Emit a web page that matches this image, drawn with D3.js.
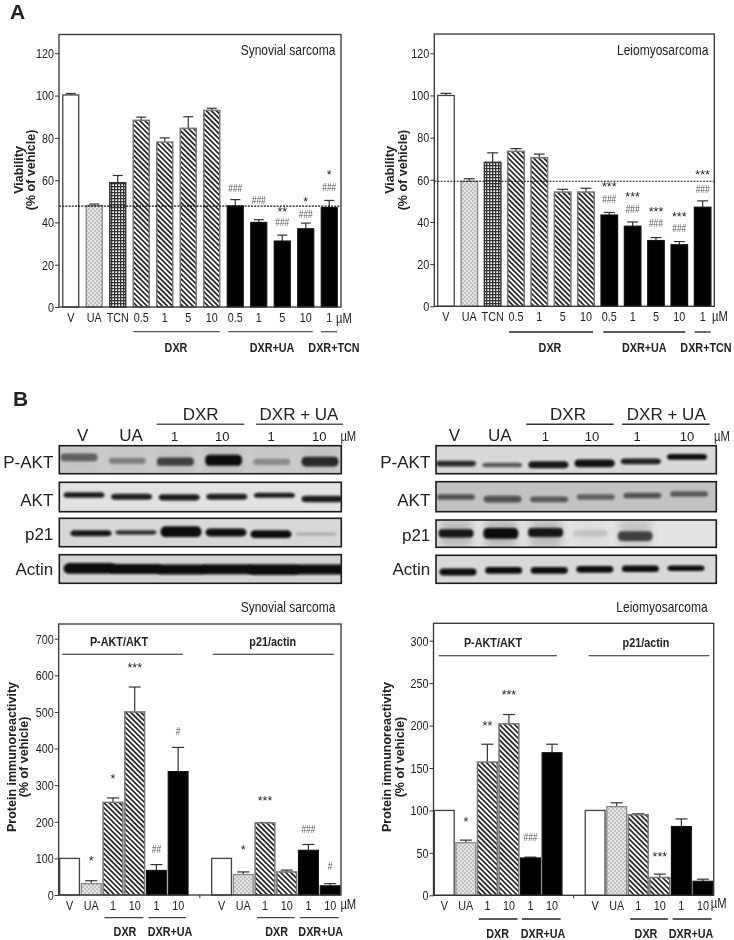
<!DOCTYPE html>
<html><head><meta charset="utf-8">
<script src="https://cdn.jsdelivr.net/npm/d3@7/dist/d3.min.js"></script>
<style>
html,body{margin:0;padding:0;background:#fff}
svg{display:block;filter:blur(0.35px)}
text{font-family:"Liberation Sans",Arial,sans-serif;fill:#222}
.tick line,.domain{stroke:#333}
</style></head><body>
<svg id="c" width="734" height="940" viewBox="0 0 734 940"></svg>
<script>
// ---------- DATA ----------
const viabilityLabels = ['V','UA','TCN','0.5','1','5','10','0.5','1','5','10','1'];
const viabilityKinds  = ['white','dots','grid','stripe','stripe','stripe','stripe','black','black','black','black','black'];
const synViability    = [100.3,48,58.8,88.3,78,84.5,93,47.8,40,31.2,37,47];
const synViabilityTop = [101,48.7,62.2,89.8,80,90,94,50.8,41.3,34,39.7,50.4];
const synViabilityRef = 47.7;
const synViabilityStars = [null,null,null,null,null,null,null,null,null,['**',45.6],['*',50.6],['*',63.2]];
const synViabilityHash  = [null,null,null,null,null,null,null,56.4,50.8,40.4,44,56.6];
const leiViability    = [100,59.3,68.3,73.5,70.5,54.2,54.2,43.3,38,31.2,29.2,47];
const leiViabilityTop = [101,60.5,72.8,74.8,72.2,55.5,56,44.5,40,32.6,30.7,50];
const leiViabilityRef = 59.3;
const leiViabilityStars = [null,null,null,null,null,null,null,['***',57.5],['***',52.8],['***',45.7],['***',43.3],['***',63.2]];
const leiViabilityHash  = [null,null,null,null,null,null,null,50.9,46.3,39.4,37,55.8];

const proteinLabels = ['V','UA','1','10','1','10','','V','UA','1','10','1','10'];
const proteinKinds  = ['white','dots','stripe','stripe','black','black',null,'white','dots','stripe','stripe','black','black'];
const synProtein    = [100,31,253,500,67,337,null,100,56,197,63,122,25];
const synProteinTop = [100,39,265,568,83,403,null,100,63,198,68,138,31];
const synProteinStars = [null,['*',96],['*',322],['***',623],null,null,null,null,['*',126],['***',262],null,null,null];
const synProteinHash  = [null,null,null,null,['##',126],['#',449],null,null,null,null,null,['###',179],['#',80]];
const leiProtein    = [100,62,157,202,44,168,null,100,104.5,95,21,81,16.5];
const leiProteinTop = [100,65,178,213,45,178,null,100,109,96,25,90,19];
const leiProteinStars = [null,['*',88],['**',201],['***',237.5],null,null,null,null,null,null,['***',46.7],null,null];
const leiProteinHash  = [null,null,null,null,['###',68.7],null,null,null,null,null,null,null,null];

const viabilityTicks = [0,20,40,60,80,100,120];
const synProteinTicks = [0,100,200,300,400,500,600,700];
const leiProteinTicks = [0,50,100,150,200,250,300];

const blotLanes = ['V','UA','DXR 1','DXR 10','DXR+UA 1','DXR+UA 10'];
const synPAktDensity = [.55,.38,.72,1,.32,.85];
const synPAktDepth   = [.42,.54,.57,.52,.58,.57];
const synPAktSpread  = [.22,.18,.24,.32,.18,.28];
const synAktDensity  = [.92,.9,.92,.9,.92,.92];
const synAktDepth    = [.43,.49,.51,.49,.44,.57];
const synAktSpread   = [.15,.16,.17,.16,.14,.18];
const synP21Density  = [.95,.82,1,.98,1,.2];
const synP21Depth    = [.53,.5,.47,.5,.56,.55];
const synP21Spread   = [.17,.12,.3,.22,.22,.1];
const synActinDensity= [1,1,1,1,1,1];
const synActinDepth  = [.48,.5,.52,.51,.52,.52];
const synActinSpread = [.3,.28,.28,.28,.3,.28];
const leiPAktDensity = [.85,.62,.95,.97,.9,1];
const leiPAktDepth   = [.64,.69,.68,.63,.56,.4];
const leiPAktSpread  = [.16,.13,.2,.22,.16,.16];
const leiAktDensity  = [.62,.62,.58,.55,.62,.58];
const leiAktDepth    = [.51,.58,.59,.51,.46,.41];
const leiAktSpread   = [.15,.18,.15,.15,.15,.15];
const leiP21Density  = [.95,1,.95,.12,.72,0];
const leiP21Depth    = [.49,.49,.46,.49,.59,.5];
const leiP21Spread   = [.24,.32,.26,.2,.28,.1];
const leiActinDensity= [1,1,1,1,1,1];
const leiActinDepth  = [.6,.54,.54,.5,.48,.46];
const leiActinSpread = [.2,.19,.19,.19,.19,.16];

// ---------- SETUP ----------
const svg = d3.select('#c');
const defs = svg.append('defs');
function pat(id,size,draw,rot){
  const p = defs.append('pattern').attr('id',id).attr('patternUnits','userSpaceOnUse')
    .attr('width',size).attr('height',size);
  if(rot!=null) p.attr('patternTransform','rotate('+rot+')');
  p.append('rect').attr('width',size).attr('height',size).attr('fill','#fff');
  draw(p);
}
pat('stripe',3.6,p=>p.append('rect').attr('width',3.6).attr('height',1.7).attr('fill','#222'),45);
pat('dots',4,p=>{p.append('rect').attr('width',4).attr('height',4).attr('fill','#e4e4e4');
  p.append('rect').attr('width',2).attr('height',2).attr('fill','#c2c2c2');
  p.append('rect').attr('x',2).attr('y',2).attr('width',2).attr('height',2).attr('fill','#c2c2c2');});
pat('grid',3,p=>{p.append('rect').attr('width',3).attr('height',1.3).attr('fill','#333');
  p.append('rect').attr('width',1.3).attr('height',3).attr('fill','#333');});
const fillOf = {white:'#fff',dots:'url(#dots)',grid:'url(#grid)',stripe:'url(#stripe)',black:'#000'};
const strokeOf = {white:'#444',dots:'#888',grid:'#333',stripe:'#777',black:'#111'};
const strokeW = {white:1.3,dots:1.3,grid:1.4,stripe:1.5,black:1.2};
[['b1',1.2],['halo',4]].forEach(([id,s])=>{
  defs.append('filter').attr('id',id).attr('x','-30%').attr('y','-80%').attr('width','160%').attr('height','260%')
    .append('feGaussianBlur').attr('stdDeviation',s);
});
function label(x,y,t,o={}){
  const e = svg.append('text').attr('x',x).attr('y',y).attr('text-anchor',o.anchor||'middle')
    .attr('dominant-baseline','central').attr('font-size',o.size||13).text(t);
  if(o.bold) e.attr('font-weight','bold');
  if(!o.wide) e.classed('narrow',true);
  if(o.fill) e.style('fill',o.fill);
  if(o.rotate) e.attr('transform','rotate(-90 '+x+' '+y+')');
  return e;
}
function rule(x1,x2,y,c='#333',w=1.3){
  svg.append('line').attr('x1',x1).attr('x2',x2).attr('y1',y).attr('y2',y).attr('stroke',c).attr('stroke-width',w);
}

// ---------- BAR CHART ----------
function barChart(o){
  const x = d3.scaleBand().domain(d3.range(o.labels.length)).range([o.left,o.right]).paddingInner(o.pad).paddingOuter(o.pad/2);
  const y = d3.scaleLinear().domain([0,o.ymax]).range([o.y0,o.yTop]);
  const g = svg.append('g');
  const idx = d3.range(o.labels.length).filter(i=>o.values[i]!=null);
  const cx = i=>x(i)+x.bandwidth()/2;
  const eg = g.append('g').attr('stroke','#333').attr('stroke-width',1.2);
  eg.selectAll('line.w').data(idx.filter(i=>o.tops[i]>o.values[i])).join('line').attr('class','w')
    .attr('x1',cx).attr('x2',cx).attr('y1',i=>y(o.values[i])).attr('y2',i=>y(o.tops[i]));
  eg.selectAll('line.c').data(idx.filter(i=>o.tops[i]>o.values[i])).join('line').attr('class','c')
    .attr('x1',i=>cx(i)-o.cap).attr('x2',i=>cx(i)+o.cap).attr('y1',i=>y(o.tops[i])).attr('y2',i=>y(o.tops[i]));
  g.selectAll('rect.bar').data(idx).join('rect').attr('class','bar')
    .attr('x',i=>x(i)).attr('width',x.bandwidth())
    .attr('y',i=>y(o.values[i])).attr('height',i=>y(0)-y(o.values[i]))
    .attr('fill',i=>fillOf[o.kinds[i]]).attr('stroke',i=>strokeOf[o.kinds[i]]).attr('stroke-width',i=>strokeW[o.kinds[i]]);
  if(o.ref!=null){
    g.append('line').attr('x1',o.left).attr('x2',o.right).attr('y1',y(o.ref)).attr('y2',y(o.ref))
      .attr('stroke','#111').attr('stroke-width',1.1).attr('stroke-dasharray','2 1.2');
  }
  g.append('rect').attr('x',o.left).attr('y',o.frameTop).attr('width',o.right-o.left).attr('height',y(0)-o.frameTop)
    .attr('fill','none').attr('stroke','#333').attr('stroke-width',1.3);
  const ya = g.append('g').attr('transform','translate('+o.left+',0)')
    .call(d3.axisLeft(y).tickValues(o.ticks).tickSize(4).tickPadding(1).tickFormat(d3.format('d')));
  ya.select('.domain').remove();
  ya.selectAll('text').attr('font-size',13.5).classed('narrow',true);
  const xa = g.append('g').attr('transform','translate(0,'+y(0)+')')
    .call(d3.axisBottom(x).tickSize(0).tickPadding(o.xPad||6).tickFormat(i=>o.labels[i]));
  xa.select('.domain').remove();
  xa.selectAll('text').attr('font-size',13.5).classed('narrow',true);
  if(o.gapTick) xa.selectAll('.tick').filter(i=>o.labels[i]==='').select('line').attr('y2',3).attr('stroke','#555');
  const mark = (arr,fn)=>arr.forEach((d,i)=>{ if(d!=null) fn(d,i); });
  mark(o.stars,(d,i)=>{
    svg.append('text').attr('x',cx(i)).attr('y',y(d[1])+5.6).attr('text-anchor','middle')
      .attr('font-size',12.5).text(d[0]);
  });
  mark(o.hash,(d,i)=>{
    const t = Array.isArray(d)?d[0]:'###', v = Array.isArray(d)?d[1]:d;
    label(cx(i),y(v),t,{size:10.5,fill:'#555'});
  });
  return {x,y,cx};
}
function groupRule(c,a,b,y,pad,col){ rule(c.cx(a)-pad,c.cx(b)+pad,y,col,1.3); }

const a1 = barChart({labels:viabilityLabels,kinds:viabilityKinds,values:synViability,tops:synViabilityTop,ref:synViabilityRef,
  stars:synViabilityStars,hash:synViabilityHash,ticks:viabilityTicks,left:59,right:341,pad:.32,y0:307,yTop:53.3,ymax:120,frameTop:34.5,cap:5,xPad:5});
groupRule(a1,3,6,331.7,8,'#555'); groupRule(a1,7,10,331.7,7,'#555'); groupRule(a1,11,11,331.7,8,'#555');
const a2 = barChart({labels:viabilityLabels,kinds:viabilityKinds,values:leiViability,tops:leiViabilityTop,ref:leiViabilityRef,
  stars:leiViabilityStars,hash:leiViabilityHash,ticks:viabilityTicks,left:434.3,right:714.3,pad:.29,y0:306.3,yTop:53.3,ymax:120,frameTop:34,cap:5.5,xPad:5});
groupRule(a2,3,6,332,7,'#222'); groupRule(a2,7,10,332,6,'#222'); groupRule(a2,11,11,332,8,'#222');
const b1 = barChart({labels:proteinLabels,kinds:proteinKinds,values:synProtein,tops:synProteinTop,stars:synProteinStars,hash:synProteinHash,
  ticks:synProteinTicks,left:58.7,right:341,pad:.09,y0:895,yTop:638.7,ymax:700,frameTop:624,cap:6,gapTick:true,xPad:5});
groupRule(b1,2,3,917.7,8.6,'#444'); groupRule(b1,4,5,917.7,8,'#444'); groupRule(b1,9,10,917.7,8,'#444'); groupRule(b1,11,12,917.7,8.7,'#444');
const b2 = barChart({labels:proteinLabels,kinds:proteinKinds,values:leiProtein,tops:leiProteinTop,stars:leiProteinStars,hash:leiProteinHash,
  ticks:leiProteinTicks,left:433.5,right:713.7,pad:.08,y0:895.3,yTop:640.7,ymax:300,frameTop:623.3,cap:6,gapTick:true,xPad:5});
groupRule(b2,2,3,919,8.6,'#222'); groupRule(b2,4,5,919,8.6,'#222'); groupRule(b2,9,10,919,8,'#222'); groupRule(b2,11,12,919,8.7,'#222');

label(10,11,'A',{size:21,bold:true,anchor:'start',wide:true});
label(13,398,'B',{size:21,bold:true,anchor:'start',wide:true});
label(288,49,'Synovial sarcoma',{size:15});
label(662.7,49.7,'Leiomyosarcoma',{size:15});
label(288,606,'Synovial sarcoma',{size:15});
label(662,606,'Leiomyosarcoma',{size:15});
function ytitle(x1,x2,cy,a,b){ label(x1,cy,a,{size:12.5,bold:true,wide:true,rotate:true}); label(x2,cy,b,{size:12.5,bold:true,wide:true,rotate:true}); }
ytitle(19,31,170,'Viability','(% of vehicle)');
ytitle(390.3,402.7,170,'Viability','(% of vehicle)');
ytitle(11.7,24.3,757,'Protein immunoreactivity','(% of vehicle)');
ytitle(387,400,757,'Protein immunoreactivity','(% of vehicle)');
const gl = (x,y,t)=>label(x,y,t,{size:13.5,bold:true});
gl(176,347,'DXR'); gl(272,347,'DXR+UA'); gl(334,347,'DXR+TCN');
gl(550,347.7,'DXR'); gl(644.3,347.7,'DXR+UA'); gl(706,347.7,'DXR+TCN');
gl(125,931.7,'DXR'); gl(170,931.7,'DXR+UA'); gl(276.7,931.7,'DXR'); gl(320.7,931.7,'DXR+UA');
gl(497.7,933.3,'DXR'); gl(543,933.3,'DXR+UA'); gl(646,933.3,'DXR'); gl(691,933.3,'DXR+UA');
gl(119,641,'P-AKT/AKT'); gl(272.7,641,'p21/actin'); rule(62.3,182.7,654.3,'#222',1.1); rule(212.7,334,654.3,'#222',1.1);
gl(493,642.3,'P-AKT/AKT'); gl(646,642.3,'p21/actin'); rule(438.7,557,655.7,'#222',1.1); rule(588.7,709.3,655.7,'#222',1.1);
[[344,318],[720,316],[348.3,904],[718.7,903]].forEach(p=>label(p[0],p[1],'\u00b5M',{size:14}));

// ---------- BLOTS ----------
function blot(o){
  const x = d3.scalePoint().domain(blotLanes).range(o.lanes);
  const y = d3.scaleLinear().domain([0,1]).range([o.y0,o.y1]);
  const h = o.y1-o.y0;
  const id='clip'+o.name;
  defs.append('clipPath').attr('id',id).append('rect').attr('x',o.x0).attr('y',o.y0).attr('width',o.x1-o.x0).attr('height',h);
  const g = svg.append('g').attr('clip-path','url(#'+id+')');
  g.append('rect').attr('x',o.x0).attr('y',o.y0).attr('width',o.x1-o.x0).attr('height',h).attr('fill',o.bg);
  const rows = blotLanes.map((l,i)=>({l,d:o.density[i],m:o.depth[i],s:o.spread[i]*1.25}));
  if(o.halo) g.selectAll('rect.h').data(rows).join('rect').attr('class','h')
    .attr('x',d=>x(d.l)-o.w/2).attr('width',o.w)
    .attr('y',o.y0).attr('height',h).attr('filter','url(#halo)')
    .attr('fill','#333').attr('opacity',d=>d.d*o.halo);
  g.selectAll('rect.b').data(rows).join('rect').attr('class','b')
    .attr('x',d=>x(d.l)-o.w/2-2).attr('width',o.w+4)
    .attr('y',d=>y(d.m)-d.s*h/2).attr('height',d=>d.s*h)
    .attr('rx',o.w*.12).attr('ry',d=>d.s*h/2)
    .attr('filter','url(#b1)')
    .attr('fill','#0a0a0a').attr('opacity',d=>d.d);
  svg.append('rect').attr('x',o.x0).attr('y',o.y0).attr('width',o.x1-o.x0).attr('height',h)
    .attr('fill','none').attr('stroke','#1c1c1c').attr('stroke-width',1.6);
}
const sx=[59.3,341.3], lx=[436,716.3];
blot({name:'s1',x0:sx[0],x1:sx[1],y0:445.7,y1:473.7,bg:'#cbcbcb',lanes:[79,320],w:33,density:synPAktDensity,depth:synPAktDepth,spread:synPAktSpread,halo:.06});
blot({name:'s2',x0:sx[0],x1:sx[1],y0:482.3,y1:511.7,bg:'#e2e2e2',lanes:[84,322],w:37,density:synAktDensity,depth:synAktDepth,spread:synAktSpread});
blot({name:'s3',x0:sx[0],x1:sx[1],y0:518.3,y1:546.7,bg:'#d8d8d8',lanes:[91,316],w:37,density:synP21Density,depth:synP21Depth,spread:synP21Spread});
blot({name:'s4',x0:sx[0],x1:sx[1],y0:554.7,y1:583.3,bg:'#d2d2d2',lanes:[90,320],w:49,density:synActinDensity,depth:synActinDepth,spread:synActinSpread});
blot({name:'l1',x0:lx[0],x1:lx[1],y0:445.7,y1:473.7,bg:'#d8d8d8',lanes:[456,687],w:36,density:leiPAktDensity,depth:leiPAktDepth,spread:leiPAktSpread});
blot({name:'l2',x0:lx[0],x1:lx[1],y0:481.7,y1:511.7,bg:'#c2c2c2',lanes:[456,689],w:34,density:leiAktDensity,depth:leiAktDepth,spread:leiAktSpread});
blot({name:'l3',x0:lx[0],x1:lx[1],y0:520,y1:547.3,bg:'#e4e4e4',lanes:[456,680],w:31,density:leiP21Density,depth:leiP21Depth,spread:leiP21Spread,halo:.25});
blot({name:'l4',x0:lx[0],x1:lx[1],y0:555.3,y1:583.3,bg:'#d8d8d8',lanes:[458,686],w:33,density:leiActinDensity,depth:leiActinDepth,spread:leiActinSpread});
const bl=(x,y,t)=>label(x,y,t,{size:17,anchor:'end',wide:true});
bl(53.3,462,'P-AKT'); bl(53.3,500,'AKT'); bl(53.3,534,'p21'); bl(53.3,569,'Actin');
bl(430.3,462.7,'P-AKT'); bl(430.3,500,'AKT'); bl(430.3,535,'p21'); bl(430.3,569,'Actin');
const hd=(x,y,t,s)=>label(x,y,t,{size:s,wide:true});
hd(200.7,414,'DXR',17); hd(299,414,'DXR + UA',17); rule(156.7,244.3,424.3,'#555',1.4); rule(256,343,424.3,'#555',1.4);
hd(82.7,435,'V',17); hd(131,435,'UA',17); hd(174.7,436,'1',13); hd(222.3,436,'10',13); hd(271,436,'1',13); hd(319.3,436,'10',13);
label(348.3,436,'\u00b5M',{size:14});
hd(568,414,'DXR',17); hd(666.3,414,'DXR + UA',17); rule(526.3,613.7,424.3,'#333',1.4); rule(622,709.7,424.3,'#333',1.4);
hd(454.3,435,'V',17); hd(499.7,435,'UA',17); hd(545.3,436,'1',13); hd(592,436,'10',13); hd(637,436,'1',13); hd(687,436,'10',13);
label(722,436,'\u00b5M',{size:14});

// Narrow lettering: no condensed face is installed, so condense real text by its measured length.
svg.selectAll('text.narrow').each(function(){
  const len = this.getComputedTextLength();
  if(len>0) d3.select(this).attr('textLength',(len*0.8).toFixed(1)).attr('lengthAdjust','spacingAndGlyphs');
});
</script></body></html>
